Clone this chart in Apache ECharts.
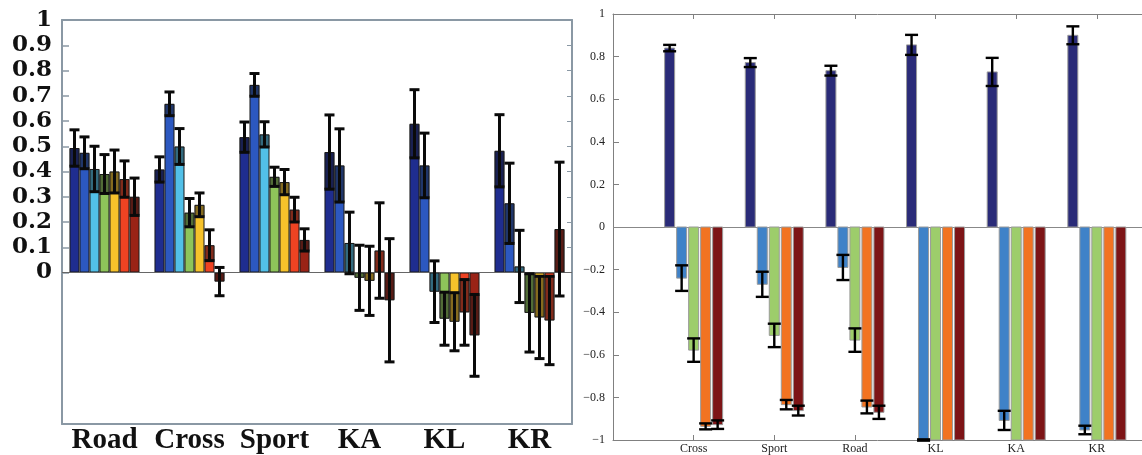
<!DOCTYPE html>
<html>
<head>
<meta charset="utf-8">
<script src="https://cdn.jsdelivr.net/npm/echarts@6/dist/echarts.min.js"></script>
<style>
html, body { margin: 0; padding: 0; background: #fff; }
#chart { width: 1142px; height: 455px; }
</style>
</head>
<body>
<div id="chart"></div>
<script>
// left panel: 7 bars per group
var leftCats = ['Road', 'Cross', 'Sport', 'KA', 'KL', 'KR'];
var leftTicks = [0, 0.1, 0.2, 0.3, 0.4, 0.5, 0.6, 0.7, 0.8, 0.9, 1];
var leftColors = ['#1f2d8f', '#2c58c0', '#52c0e8', '#8ec45a', '#f6c22b', '#ee4322', '#9a2316'];

var leftMean1 = [0.493, 0.408, 0.536, 0.477, 0.589, 0.482];
var leftMean2 = [0.474, 0.668, 0.743, 0.424, 0.424, 0.274];
var leftMean3 = [0.41, 0.499, 0.547, 0.117, -0.076, 0.024];
var leftMean4 = [0.39, 0.237, 0.379, -0.021, -0.183, -0.16];
var leftMean5 = [0.40, 0.268, 0.358, -0.033, -0.195, -0.178];
var leftMean6 = [0.37, 0.108, 0.249, 0.087, -0.158, -0.19];
var leftMean7 = [0.30, -0.036, 0.129, -0.11, -0.249, 0.172];

var leftErr1 = [0.072, 0.05, 0.06, 0.147, 0.135, 0.143];
var leftErr2 = [0.063, 0.047, 0.045, 0.145, 0.128, 0.159];
var leftErr3 = [0.09, 0.071, 0.05, 0.122, 0.122, 0.143];
var leftErr4 = [0.077, 0.056, 0.038, 0.129, 0.105, 0.155];
var leftErr5 = [0.085, 0.047, 0.05, 0.137, 0.115, 0.163];
var leftErr6 = [0.072, 0.061, 0.049, 0.189, 0.13, 0.175];
var leftErr7 = [0.074, 0.056, 0.044, 0.244, 0.162, 0.265];

// right panel: 5 bars per group, groups sit at x = 1..6 on an axis cut off at the right
var rightCats = ['Cross', 'Sport', 'Road', 'KL', 'KA', 'KR'];
var rightTicks = [-1, -0.8, -0.6, -0.4, -0.2, 0, 0.2, 0.4, 0.6, 0.8, 1];
var rightColors = ['#2a2b78', '#3f82c8', '#9dcd6b', '#f27321', '#7d1416'];

var rightMean1 = [0.84, 0.772, 0.734, 0.855, 0.728, 0.9];
var rightMean2 = [-0.24, -0.269, -0.19, -1, -0.908, -0.953];
var rightMean3 = [-0.578, -0.509, -0.531, -1, -1, -1];
var rightMean4 = [-0.936, -0.834, -0.845, -1, -1, -1];
var rightMean5 = [-0.928, -0.862, -0.87, -1, -1, -1];

var rightErr1 = [0.015, 0.021, 0.023, 0.047, 0.066, 0.042];
var rightErr2 = [0.06, 0.059, 0.059, 0.003, 0.045, 0.02];
var rightErr3 = [0.055, 0.055, 0.055, 0, 0, 0];
var rightErr4 = [0.014, 0.022, 0.03, 0, 0, 0];
var rightErr5 = [0.02, 0.023, 0.031, 0, 0, 0];

var leftMeans = [leftMean1, leftMean2, leftMean3, leftMean4, leftMean5, leftMean6, leftMean7];
var leftErrs = [leftErr1, leftErr2, leftErr3, leftErr4, leftErr5, leftErr6, leftErr7];
var rightMeans = [rightMean1, rightMean2, rightMean3, rightMean4, rightMean5];
var rightErrs = [rightErr1, rightErr2, rightErr3, rightErr4, rightErr5];

var LEFT_GAP = 0.176;
var RIGHT_SLOT = 12;
var RIGHT_BAR = 10;
var RIGHT_XMAX = 6.56;

var series = [];

// left bars
leftMeans.forEach(function (arr, k) {
    var s = {
        type: 'bar',
        xAxisIndex: 0,
        yAxisIndex: 0,
        data: arr,
        barGap: '0%',
        barCategoryGap: (LEFT_GAP * 100) + '%',
        itemStyle: { color: leftColors[k], borderColor: '#1a1a1a', borderWidth: 1 },
        silent: true
    };
    if (k === 0) {
        s.markLine = {
            silent: true, symbol: 'none', label: { show: false },
            lineStyle: { color: '#666', width: 1, type: 'solid' },
            data: [{ yAxis: 0 }]
        };
    }
    series.push(s);
});

// left error bars (with the dark overlay inside the bar)
var leftErrData = [];
leftMeans.forEach(function (arr, k) {
    arr.forEach(function (m, i) {
        leftErrData.push([i, k, m, leftErrs[k][i]]);
    });
});
series.push({
    type: 'custom',
    xAxisIndex: 0,
    yAxisIndex: 0,
    z: 10,
    silent: true,
    encode: { x: 0, y: 2 },
    data: leftErrData,
    renderItem: function (params, api) {
        var cat = api.value(0), k = api.value(1), m = api.value(2), e = api.value(3);
        var band = api.size([1, 0])[0];
        var bw = band * (1 - LEFT_GAP) / 7;
        var cx = api.coord([cat, 0])[0] + (k - 3) * bw;
        var yTop = api.coord([cat, m + e])[1];
        var yBot = api.coord([cat, m - e])[1];
        var yM = api.coord([cat, m])[1];
        var inner = m > 0 ? Math.max(m - e, 0) : Math.min(m + e, 0);
        var yIn = api.coord([cat, inner])[1];
        var half = bw / 2;
        var st = { stroke: '#0a0a0a', lineWidth: 3 };
        return {
            type: 'group',
            children: [
                { type: 'rect', shape: { x: cx - half, y: Math.min(yM, yIn), width: bw, height: Math.abs(yIn - yM) }, style: { fill: 'rgba(20,20,20,0.5)' } },
                { type: 'line', shape: { x1: cx, y1: yTop, x2: cx, y2: yBot }, style: st },
                { type: 'line', shape: { x1: cx - half, y1: yTop, x2: cx + half, y2: yTop }, style: st },
                { type: 'line', shape: { x1: cx - half, y1: yBot, x2: cx + half, y2: yBot }, style: st }
            ]
        };
    }
});

// right bars
var rightBarData = [];
var rightErrData = [];
rightMeans.forEach(function (arr, k) {
    arr.forEach(function (m, i) {
        rightBarData.push([i + 1, k, m]);
        if (rightErrs[k][i] > 0) rightErrData.push([i + 1, k, m, rightErrs[k][i]]);
    });
});
series.push({
    type: 'custom',
    xAxisIndex: 2,
    yAxisIndex: 2,
    z: 5,
    silent: true,
    encode: { x: 0, y: 2 },
    data: rightBarData,
    renderItem: function (params, api) {
        var x = api.value(0), k = api.value(1), m = api.value(2);
        var cx = api.coord([x, 0])[0] + (k - 2) * RIGHT_SLOT;
        var y0 = api.coord([x, 0])[1];
        var y1 = api.coord([x, m])[1];
        return {
            type: 'rect',
            shape: { x: cx - RIGHT_BAR / 2, y: Math.min(y0, y1), width: RIGHT_BAR, height: Math.abs(y1 - y0) },
            style: { fill: rightColors[k], stroke: '#9a9a9a', lineWidth: 1 }
        };
    },
    markLine: {
        silent: true, symbol: 'none', label: { show: false },
        lineStyle: { color: '#888', width: 1, type: 'solid' },
        data: [{ yAxis: 0 }]
    }
});

series.push({
    type: 'custom',
    xAxisIndex: 2,
    yAxisIndex: 2,
    z: 10,
    silent: true,
    encode: { x: 0, y: 2 },
    data: rightErrData,
    renderItem: function (params, api) {
        var x = api.value(0), k = api.value(1), m = api.value(2), e = api.value(3);
        var cx = api.coord([x, 0])[0] + (k - 2) * RIGHT_SLOT;
        var yTop = api.coord([x, m + e])[1];
        var yBot = api.coord([x, m - e])[1];
        var half = 6.5;
        var st = { stroke: '#000', lineWidth: 2.4 };
        return {
            type: 'group',
            children: [
                { type: 'line', shape: { x1: cx, y1: yTop, x2: cx, y2: yBot }, style: st },
                { type: 'line', shape: { x1: cx - half, y1: yTop, x2: cx + half, y2: yTop }, style: st },
                { type: 'line', shape: { x1: cx - half, y1: yBot, x2: cx + half, y2: yBot }, style: st }
            ]
        };
    }
});

var leftAxisColor = '#8a98a4';
var rightAxisColor = '#808080';

function rightCatLabel(v) {
    return rightCats[Math.round(v) - 1] || '';
}

option = {
    backgroundColor: '#fff',
    animation: false,
    grid: [
        { left: 62, top: 20, width: 510, height: 405 },
        { left: 613, top: 14, right: 0, height: 426 }
    ],
    xAxis: [
        {
            gridIndex: 0, type: 'category', data: leftCats, position: 'bottom',
            axisLine: { onZero: false, lineStyle: { color: leftAxisColor, width: 2 } },
            axisTick: { inside: true, alignWithLabel: true, length: 7, lineStyle: { color: leftAxisColor, width: 1.5 } },
            axisLabel: { interval: 0, color: '#111', fontFamily: 'Liberation Serif', fontWeight: 'bold', fontSize: 29, margin: 2 }
        },
        {
            gridIndex: 0, type: 'category', data: leftCats, position: 'top',
            axisLine: { onZero: false, lineStyle: { color: leftAxisColor, width: 2 } },
            axisTick: { inside: true, alignWithLabel: true, length: 7, lineStyle: { color: leftAxisColor, width: 1.5 } },
            axisLabel: { show: false }
        },
        {
            gridIndex: 1, type: 'value', min: 0, max: RIGHT_XMAX, interval: 1, position: 'bottom',
            splitLine: { show: false },
            axisLine: { onZero: false, lineStyle: { color: rightAxisColor, width: 1 } },
            axisTick: { inside: true, length: 5, customValues: [1, 2, 3, 4, 5, 6], lineStyle: { color: rightAxisColor } },
            axisLabel: {
                color: '#222', fontFamily: 'Liberation Serif', fontSize: 12, margin: 3,
                customValues: [1, 2, 3, 4, 5, 6],
                formatter: rightCatLabel
            }
        },
        {
            gridIndex: 1, type: 'value', min: 0, max: RIGHT_XMAX, interval: 1, position: 'top',
            splitLine: { show: false },
            axisLine: { onZero: false, lineStyle: { color: rightAxisColor, width: 1 } },
            axisTick: { inside: true, length: 5, customValues: [1, 2, 3, 4, 5, 6], lineStyle: { color: rightAxisColor } },
            axisLabel: { show: false }
        }
    ],
    yAxis: [
        {
            gridIndex: 0, type: 'value', min: -0.6, max: 1, interval: 0.1, position: 'left',
            splitLine: { show: false },
            axisLine: { show: true, lineStyle: { color: leftAxisColor, width: 2 } },
            axisTick: { show: true, inside: true, length: 7, customValues: leftTicks, lineStyle: { color: leftAxisColor, width: 1.5 } },
            axisLabel: {
                color: '#111', fontFamily: 'DejaVu Serif', fontWeight: 'bold', fontSize: 23, margin: 10,
                customValues: leftTicks,
                formatter: function (v) {
                    return String(Math.round(v * 10) / 10);
                }
            }
        },
        {
            gridIndex: 0, type: 'value', min: -0.6, max: 1, interval: 0.1, position: 'right',
            splitLine: { show: false },
            axisLine: { show: true, lineStyle: { color: leftAxisColor, width: 2 } },
            axisTick: { show: true, inside: true, length: 5, customValues: leftTicks, lineStyle: { color: leftAxisColor } },
            axisLabel: { show: false }
        },
        {
            gridIndex: 1, type: 'value', min: -1, max: 1, interval: 0.2, position: 'left',
            splitLine: { show: false },
            axisLine: { show: true, lineStyle: { color: rightAxisColor, width: 1 } },
            axisTick: { show: true, inside: true, length: 6, customValues: rightTicks, lineStyle: { color: rightAxisColor } },
            axisLabel: {
                color: '#222', fontFamily: 'Liberation Serif', fontSize: 12, margin: 8,
                customValues: rightTicks,
                formatter: function (v) {
                    var r = Math.round(v * 10) / 10;
                    return String(r).replace('-', '\u2212');
                }
            }
        }
    ],
    series: series
};

var myChart = echarts.init(document.getElementById('chart'));
myChart.setOption(option);
window.addEventListener('resize', function () {
    myChart.resize();
});
</script>
</body>
</html>
